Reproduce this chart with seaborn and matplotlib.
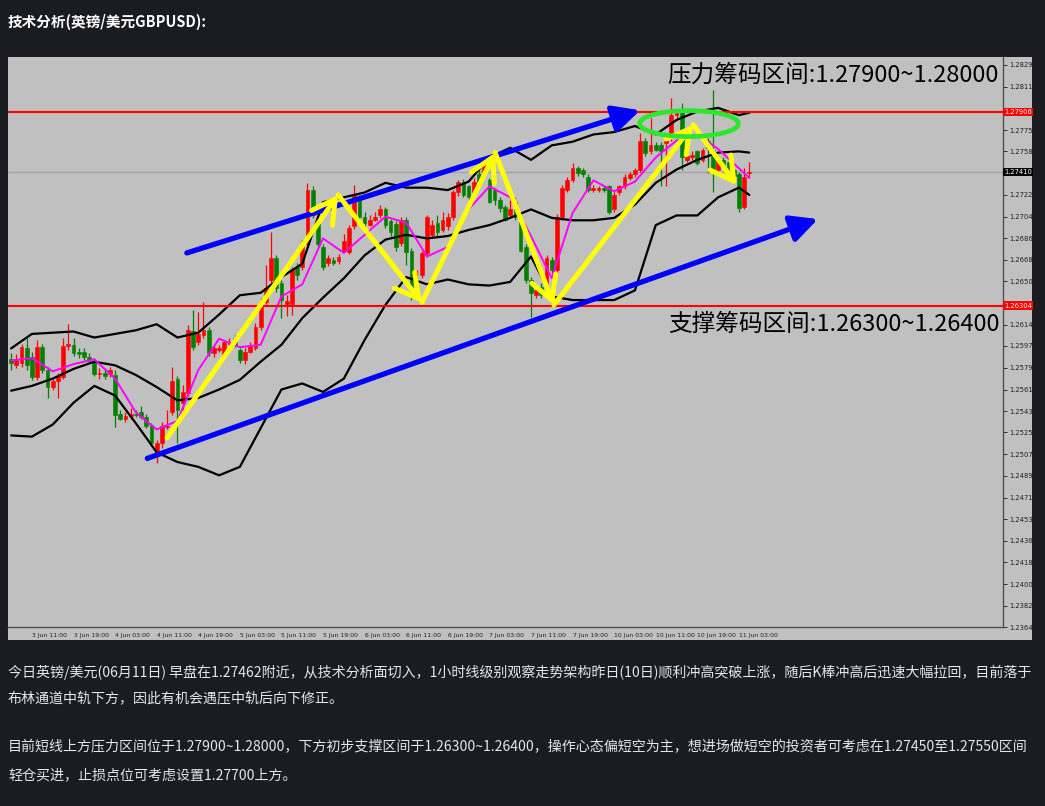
import numpy as np
import pandas as pd
import seaborn as sns
import matplotlib.pyplot as plt
from matplotlib import font_manager
from matplotlib.patches import Ellipse, Rectangle

# GBPUSD H1 candles, 3 Jun 07:00 -> 11 Jun 05:00
opens = [1.2586, 1.2581, 1.2583, 1.2595, 1.2588, 1.2571, 1.2596, 1.2577, 1.2563, 1.2568,
         1.2571, 1.2597, 1.2598, 1.2592, 1.2592, 1.2588, 1.2584, 1.2574, 1.2575, 1.2574,
         1.2573, 1.2541, 1.2537, 1.2539, 1.2541, 1.2542, 1.2538, 1.2532, 1.2509, 1.2517,
         1.2530, 1.2542, 1.2570, 1.2550, 1.2558, 1.2609, 1.2600, 1.2606, 1.2610, 1.2591,
         1.2594, 1.2590, 1.2599, 1.2604, 1.2594, 1.2585, 1.2592, 1.2595, 1.2613, 1.2633,
         1.2652, 1.2670, 1.2649, 1.2632, 1.2632, 1.2662, 1.2662, 1.2681, 1.2726, 1.2700,
         1.2679, 1.2666, 1.2668, 1.2667, 1.2676, 1.2675, 1.2696, 1.2720, 1.2704, 1.2697,
         1.2701, 1.2705, 1.2710, 1.2700, 1.2698, 1.2682, 1.2701, 1.2676, 1.2638, 1.2656,
         1.2674, 1.2689, 1.2699, 1.2693, 1.2696, 1.2704, 1.2724, 1.2733, 1.2729, 1.2724,
         1.2739, 1.2740, 1.2734, 1.2726, 1.2718, 1.2712, 1.2705, 1.2716, 1.2703, 1.2679,
         1.2652, 1.2639, 1.2646, 1.2645, 1.2668, 1.2660, 1.2704, 1.2726, 1.2734, 1.2744,
         1.2743, 1.2737, 1.2726, 1.2726, 1.2728, 1.2729, 1.2710, 1.2724, 1.2729, 1.2736,
         1.2739, 1.2743, 1.2767, 1.2758, 1.2763, 1.2763, 1.2765, 1.2769, 1.2788, 1.2790,
         1.2751, 1.2753, 1.2758, 1.2751, 1.2767, 1.2759, 1.2743, 1.2751, 1.2749, 1.2743,
         1.2739, 1.2712, 1.2740]
highs = [1.2591, 1.2590, 1.2599, 1.2604, 1.2592, 1.2602, 1.2599, 1.2580, 1.2570, 1.2575,
         1.2604, 1.2615, 1.2604, 1.2595, 1.2595, 1.2591, 1.2587, 1.2579, 1.2579, 1.2580,
         1.2577, 1.2544, 1.2542, 1.2546, 1.2544, 1.2547, 1.2541, 1.2533, 1.2519, 1.2534,
         1.2544, 1.2580, 1.2572, 1.2565, 1.2614, 1.2627, 1.2625, 1.2633, 1.2613, 1.2598,
         1.2598, 1.2602, 1.2604, 1.2606, 1.2595, 1.2595, 1.2600, 1.2616, 1.2637, 1.2664,
         1.2691, 1.2672, 1.2652, 1.2639, 1.2662, 1.2666, 1.2685, 1.2732, 1.2729, 1.2703,
         1.2681, 1.2672, 1.2671, 1.2673, 1.2690, 1.2697, 1.2730, 1.2722, 1.2708, 1.2705,
         1.2708, 1.2714, 1.2712, 1.2702, 1.2700, 1.2704, 1.2704, 1.2678, 1.2660, 1.2676,
         1.2705, 1.2701, 1.2705, 1.2708, 1.2707, 1.2726, 1.2734, 1.2735, 1.2730, 1.2736,
         1.2744, 1.2751, 1.2736, 1.2728, 1.2720, 1.2714, 1.2718, 1.2720, 1.2705, 1.2681,
         1.2654, 1.2648, 1.2649, 1.2672, 1.2671, 1.2706, 1.2730, 1.2737, 1.2748, 1.2746,
         1.2744, 1.2739, 1.2730, 1.2729, 1.2729, 1.2730, 1.2724, 1.2730, 1.2739, 1.2741,
         1.2744, 1.2773, 1.2769, 1.2786, 1.2766, 1.2766, 1.2772, 1.2802, 1.2792, 1.2798,
         1.2756, 1.2758, 1.2759, 1.2761, 1.2769, 1.2809, 1.2753, 1.2753, 1.2751, 1.2744,
         1.2741, 1.2744, 1.2749]
lows = [1.2577, 1.2579, 1.2580, 1.2577, 1.2569, 1.2569, 1.2575, 1.2554, 1.2561, 1.2554,
        1.2570, 1.2594, 1.2589, 1.2587, 1.2585, 1.2584, 1.2572, 1.2570, 1.2570, 1.2571,
        1.2530, 1.2536, 1.2534, 1.2537, 1.2538, 1.2537, 1.2529, 1.2514, 1.2500, 1.2513,
        1.2528, 1.2540, 1.2517, 1.2544, 1.2556, 1.2594, 1.2598, 1.2604, 1.2589, 1.2588,
        1.2592, 1.2587, 1.2597, 1.2596, 1.2583, 1.2582, 1.2591, 1.2594, 1.2610, 1.2632,
        1.2649, 1.2642, 1.2620, 1.2622, 1.2623, 1.2652, 1.2660, 1.2678, 1.2703, 1.2678,
        1.2660, 1.2663, 1.2664, 1.2665, 1.2676, 1.2673, 1.2694, 1.2701, 1.2696, 1.2696,
        1.2700, 1.2703, 1.2695, 1.2688, 1.2676, 1.2680, 1.2664, 1.2635, 1.2635, 1.2653,
        1.2671, 1.2686, 1.2688, 1.2691, 1.2693, 1.2701, 1.2721, 1.2720, 1.2718, 1.2722,
        1.2730, 1.2738, 1.2715, 1.2714, 1.2708, 1.2700, 1.2703, 1.2701, 1.2675, 1.2649,
        1.2621, 1.2637, 1.2637, 1.2643, 1.2657, 1.2658, 1.2701, 1.2724, 1.2733, 1.2738,
        1.2737, 1.2724, 1.2724, 1.2724, 1.2724, 1.2706, 1.2708, 1.2722, 1.2727, 1.2734,
        1.2737, 1.2741, 1.2754, 1.2756, 1.2758, 1.2729, 1.2729, 1.2767, 1.2786, 1.2743,
        1.2749, 1.2751, 1.2747, 1.2749, 1.2740, 1.2724, 1.2739, 1.2744, 1.2743, 1.2736,
        1.2708, 1.2710, 1.2737]
closes = [1.2583, 1.2586, 1.2596, 1.2581, 1.2571, 1.2596, 1.2577, 1.2563, 1.2568, 1.2572,
          1.2597, 1.2599, 1.2591, 1.2590, 1.2588, 1.2585, 1.2574, 1.2575, 1.2572, 1.2577,
          1.2540, 1.2537, 1.2539, 1.2541, 1.2540, 1.2538, 1.2531, 1.2517, 1.2517, 1.2531,
          1.2531, 1.2568, 1.2544, 1.2559, 1.2610, 1.2596, 1.2607, 1.2610, 1.2591, 1.2595,
          1.2595, 1.2600, 1.2600, 1.2598, 1.2585, 1.2592, 1.2598, 1.2613, 1.2633, 1.2645,
          1.2670, 1.2645, 1.2635, 1.2634, 1.2660, 1.2656, 1.2681, 1.2726, 1.2705, 1.2681,
          1.2662, 1.2670, 1.2666, 1.2671, 1.2684, 1.2695, 1.2722, 1.2704, 1.2699, 1.2701,
          1.2704, 1.2710, 1.2697, 1.2691, 1.2679, 1.2701, 1.2675, 1.2638, 1.2652, 1.2674,
          1.2704, 1.2697, 1.2691, 1.2701, 1.2704, 1.2724, 1.2733, 1.2722, 1.2720, 1.2733,
          1.2733, 1.2747, 1.2716, 1.2718, 1.2711, 1.2701, 1.2710, 1.2704, 1.2676, 1.2652,
          1.2641, 1.2643, 1.2639, 1.2670, 1.2660, 1.2704, 1.2728, 1.2734, 1.2744, 1.2740,
          1.2739, 1.2726, 1.2728, 1.2728, 1.2726, 1.2708, 1.2722, 1.2729, 1.2737, 1.2739,
          1.2743, 1.2767, 1.2757, 1.2763, 1.2759, 1.2758, 1.2770, 1.2788, 1.2790, 1.2753,
          1.2754, 1.2755, 1.2748, 1.2759, 1.2761, 1.2741, 1.2751, 1.2747, 1.2744, 1.2738,
          1.2711, 1.2737, 1.2741]

# Bollinger bands and short MA, read every 4 bars
line_idx = [0, 4, 8, 12, 16, 20, 24, 28, 32, 36, 40, 44, 48, 52, 56, 60, 64, 68, 72,
            76, 80, 84, 88, 92, 96, 100, 104, 108, 112, 116, 120, 124, 128, 132, 136, 140, 142]
bb_upper = [1.2595, 1.2607, 1.2608, 1.2609, 1.2604, 1.2607, 1.2610, 1.2615, 1.2604, 1.2608,
            1.2623, 1.2639, 1.2641, 1.2654, 1.2665, 1.2716, 1.2720, 1.2724, 1.2732, 1.2728,
            1.2728, 1.2726, 1.2733, 1.2753, 1.2761, 1.2751, 1.2763, 1.2766, 1.2772, 1.2774,
            1.2779, 1.2772, 1.2784, 1.2791, 1.2794, 1.2788, 1.2790]
bb_middle = [1.2560, 1.2564, 1.2570, 1.2578, 1.2584, 1.2581, 1.2573, 1.2563, 1.2552, 1.2554,
             1.2561, 1.2569, 1.2584, 1.2598, 1.2620, 1.2637, 1.2653, 1.2672, 1.2685, 1.2689,
             1.2686, 1.2688, 1.2693, 1.2697, 1.2703, 1.2710, 1.2703, 1.2701, 1.2701, 1.2703,
             1.2714, 1.2732, 1.2743, 1.2751, 1.2757, 1.2758, 1.2757]
bb_lower = [1.2523, 1.2522, 1.2532, 1.2550, 1.2564, 1.2556, 1.2533, 1.2509, 1.2501, 1.2497,
            1.2490, 1.2497, 1.2529, 1.2561, 1.2566, 1.2559, 1.2570, 1.2602, 1.2631, 1.2654,
            1.2648, 1.2652, 1.2648, 1.2647, 1.2650, 1.2671, 1.2638, 1.2635, 1.2635, 1.2635,
            1.2643, 1.2697, 1.2705, 1.2705, 1.2720, 1.2728, 1.2722]
ma_fast = [1.2585, 1.2587, 1.2576, 1.2582, 1.2586, 1.2570, 1.2542, 1.2528, 1.2535, 1.2577,
           1.2603, 1.2596, 1.2598, 1.2638, 1.2648, 1.2686, 1.2674, 1.2689, 1.2704, 1.2699,
           1.2671, 1.2679, 1.2710, 1.2729, 1.2720, 1.2688, 1.2653, 1.2707, 1.2734, 1.2725,
           1.2733, 1.2753, 1.2767, 1.2772, 1.2760, 1.2744, 1.2736]

# price axis
ytick_vals = [1.28295, 1.28115, 1.27755, 1.27580, 1.27220, 1.27040, 1.26860, 1.26685,
              1.26505, 1.26145, 1.25970, 1.25790, 1.25610, 1.25430, 1.25255, 1.25075,
              1.24895, 1.24715, 1.24535, 1.24360, 1.24180, 1.24000, 1.23820, 1.23645]
resist_level = 1.27906
support_level = 1.26304
last_price = 1.27410

# time axis
date_ticks = [4, 12, 20, 28, 36, 44, 52, 60, 68, 76, 84, 92, 100, 108, 116, 124, 132, 140]
date_labels = ['3 Jun 11:00', '3 Jun 19:00', '4 Jun 03:00', '4 Jun 11:00', '4 Jun 19:00',
               '5 Jun 03:00', '5 Jun 11:00', '5 Jun 19:00', '6 Jun 03:00', '6 Jun 11:00',
               '6 Jun 19:00', '7 Jun 03:00', '7 Jun 11:00', '7 Jun 19:00', '10 Jun 03:00',
               '10 Jun 11:00', '10 Jun 19:00', '11 Jun 03:00']

# hand-drawn channel / zigzag (bar index, price)
chan_upper = [(33.8, 1.2674), (121.0, 1.2792)]
chan_lower = [(26.2, 1.2504), (155.2, 1.2702)]
zigzag = [(30.0, 1.2521), (62.9, 1.2722), (79.0, 1.2633), (93.1, 1.2757),
          (104.4, 1.2631), (131.2, 1.2780), (139.6, 1.2730)]
top_zone = (130.4, 1.2781)

title = '技术分析(英镑/美元GBPUSD):'
resist_text = '压力筹码区间:1.27900~1.28000'
support_text = '支撑筹码区间:1.26300~1.26400'
para = ['今日英镑/美元(06月11日) 早盘在1.27462附近，从技术分析面切入，1小时线级别观察走势架构昨日(10日)顺利冲高突破上涨，随后K棒冲高后迅速大幅拉回，目前落于',
        '布林通道中轨下方，因此有机会遇压中轨后向下修正。',
        '目前短线上方压力区间位于1.27900~1.28000，下方初步支撑区间于1.26300~1.26400，操作心态偏短空为主，想进场做短空的投资者可考虑在1.27450至1.27550区间',
        '轻仓买进，止损点位可考虑设置1.27700上方。']

sns.set_style('white')
plt.rcParams['font.family'] = ['Noto Sans CJK SC', 'DejaVu Sans']
names = {f.name for f in font_manager.fontManager.ttflist}
tick_font = 'Liberation Sans Narrow' if 'Liberation Sans Narrow' in names else 'DejaVu Sans'

W, H = 1045, 806
page_bg = '#1b1c20'
fig = plt.figure(figsize=(W / 100, H / 100), dpi=100, facecolor=page_bg)
fig.add_artist(Rectangle((8 / W, 1 - 640 / H), 1024 / W, 583 / H, transform=fig.transFigure,
                         facecolor='#c0c0c0', edgecolor='none', zorder=0))
ax = fig.add_axes([8 / W, 1 - 627 / H, 995 / W, 570 / H])
ax.set_facecolor('#c0c0c0')

# candles: red = up, green = down
df = pd.DataFrame({'open': opens, 'high': highs, 'low': lows, 'close': closes})
df['idx'] = np.arange(len(df))
df['col'] = np.where(df['close'] >= df['open'], '#ff0000', '#008000')
ax.vlines(df['idx'], df['low'], df['high'], colors=df['col'], lw=0.9, zorder=2)
ax.bar(df['idx'], df['close'] - df['open'], bottom=df['open'], width=0.72,
       color=df['col'], edgecolor=df['col'], linewidth=0.4, zorder=2)

# indicators
lines = pd.DataFrame({'idx': line_idx, 'upper': bb_upper, 'middle': bb_middle,
                      'lower': bb_lower, 'ma': ma_fast})
for col in ['upper', 'middle', 'lower']:
    sns.lineplot(data=lines, x='idx', y=col, color='black', lw=1.6, ax=ax, zorder=3)
sns.lineplot(data=lines, x='idx', y='ma', color='#ff00ff', lw=1.4, ax=ax, zorder=3)

# horizontal levels
ax.axhline(resist_level, color='#ff0000', lw=1.5, zorder=3)
ax.axhline(support_level, color='#ff0000', lw=1.5, zorder=3)
ax.axhline(last_price, color='#a4a4a4', lw=1.0, zorder=1)

# channel arrows
for seg in [chan_upper, chan_lower]:
    ax.annotate('', xy=seg[1], xytext=seg[0],
                arrowprops=dict(arrowstyle='-|>,head_length=0.9,head_width=0.45',
                                color='#0000ff', lw=3.8, mutation_scale=18,
                                shrinkA=0, shrinkB=0), zorder=5)
for a, b in zip(zigzag[:-1], zigzag[1:]):
    ax.annotate('', xy=b, xytext=a,
                arrowprops=dict(arrowstyle='->,head_length=0.75,head_width=0.42',
                                color='#ffff00', lw=3.6, mutation_scale=22,
                                shrinkA=0, shrinkB=0), zorder=5)
ax.add_patch(Ellipse(top_zone, width=19, height=0.00215, fill=False,
                     edgecolor='#2ee62e', lw=3.4, zorder=6))

ax.text(0.663, 0.968, resist_text, transform=ax.transAxes, fontsize=17,
        color='black', va='center', ha='left', zorder=7)
ax.text(0.663, 0.530, support_text, transform=ax.transAxes, fontsize=17,
        color='black', va='center', ha='left', zorder=7)

ax.set_xlim(-0.6, 190.8)
ax.set_ylim(1.23645, 1.28361)
ax.set_xlabel('')
ax.set_ylabel('')
ax.yaxis.tick_right()
ax.set_yticks(ytick_vals)
ax.set_yticklabels([f'{v:.5f}' for v in ytick_vals])
ax.set_xticks(date_ticks)
ax.set_xticklabels(date_labels)
ax.tick_params(axis='both', which='both', length=3, width=0.7, color='#303030',
               labelcolor='#202020', pad=1.2, direction='out')
ax.tick_params(axis='y', left=False, right=True, labelsize=4.9)
ax.tick_params(axis='x', labelsize=4.4)
for lbl in ax.get_xticklabels():
    lbl.set_ha('left')
    lbl.set_fontfamily(tick_font)
for lbl in ax.get_yticklabels():
    lbl.set_fontfamily(tick_font)
for s in ['top', 'left']:
    ax.spines[s].set_visible(False)
for s in ['right', 'bottom']:
    ax.spines[s].set_color('#505050')
    ax.spines[s].set_linewidth(1.0)

# price tags on the right scale
ytr = ax.get_yaxis_transform()
for val, bg in [(resist_level, '#ff0000'), (support_level, '#ff0000'), (last_price, '#000000')]:
    ax.text(1.001, val, f'{val:.5f}', transform=ytr, fontsize=4.9, color='white',
            family=tick_font, va='center', ha='left', zorder=8, clip_on=False,
            bbox=dict(facecolor=bg, edgecolor='none', pad=1.0))

# page text
fig.text(8 / W, 1 - 22 / H, title, color='white', fontsize=10.5, fontweight='bold',
         va='center', ha='left')
for txt, ypx in zip(para, [672, 698, 747, 775]):
    fig.text(8 / W, 1 - ypx / H, txt, color='#e6e6e6', fontsize=10.1, va='center', ha='left')

fig.savefig('out.png', dpi=100, facecolor=fig.get_facecolor())
